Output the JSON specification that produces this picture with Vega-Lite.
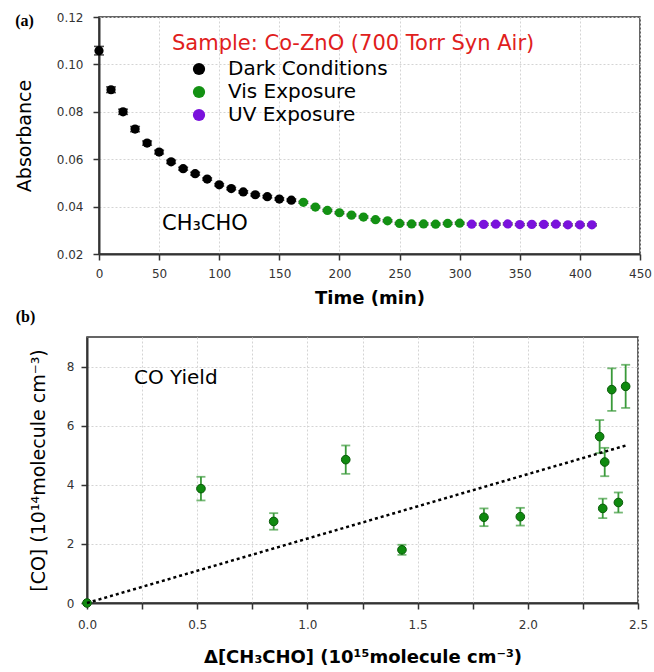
{
  "$schema": "https://vega.github.io/schema/vega-lite/v6.json",
  "background": "white",
  "padding": {"left": 13, "top": 10, "right": 2, "bottom": 2},
  "spacing": 0,
  "resolve": {"scale": {"color": "independent"}, "legend": {"color": "independent"}},
  "config": {
    "font": "DejaVu Sans",
    "view": {"stroke": "#333", "strokeWidth": 1.5, "fill": "white"},
    "axis": {
      "domainColor": "#333", "domainWidth": 2,
      "tickColor": "#333", "tickWidth": 1.5, "tickSize": 6,
      "labelFont": "DejaVu Sans", "labelFontSize": 12, "labelColor": "#333",
      "gridColor": "#d4d4d4", "gridDash": [2, 2], "gridWidth": 1,
      "titleFont": "DejaVu Sans", "titleColor": "#000"
    }
  },
  "vconcat": [
    {
      "spacing": 0,
      "resolve": {"scale": {"color": "independent"}, "legend": {"color": "independent"}},
      "hconcat": [
        {
          "width": 1, "height": 1,
          "view": {"stroke": null, "fill": null},
          "data": {"values": []},
          "mark": "point",
          "encoding": {}
        },
        {
          "width": 541,
          "height": 237,
          "layer": [
            {
              "data": {"name": "absorb"},
              "mark": {"type": "errorbar", "ticks": {"size": 10, "color": "#000"}, "color": "#000", "thickness": 1.5},
              "encoding": {
                "x": {"field": "t", "type": "quantitative", "scale": {"domain": [0, 450], "nice": false, "zero": false},
                  "axis": {
                    "title": "Time (min)", "titleFontSize": 18, "titleFontWeight": "bold", "titlePadding": 10,
                    "values": [0, 25, 50, 75, 100, 125, 150, 175, 200, 225, 250, 275, 300, 325, 350, 375, 400, 425, 450],
                    "labelExpr": "datum.value % 50 === 0 ? datum.label : ''",
                    "labelPadding": 8, "labelFlush": false
                  }},
                "y": {"field": "A", "type": "quantitative", "scale": {"domain": [0.02, 0.12], "nice": false, "zero": false},
                  "axis": {
                    "title": "Absorbance", "titleFontSize": 19, "titleFontWeight": "normal", "titlePadding": 22,
                    "values": [0.02, 0.03, 0.04, 0.05, 0.06, 0.07, 0.08, 0.09, 0.1, 0.11, 0.12],
                    "labelExpr": "round(datum.value * 100) % 2 === 0 ? format(datum.value, '.2f') : ''",
                    "labelPadding": 10, "labelFlush": false
                  }},
                "yError": {"field": "err"}
              }
            },
            {
              "data": {"name": "absorb"},
              "mark": {"type": "point", "filled": true, "size": 85, "opacity": 1},
              "encoding": {
                "x": {"field": "t", "type": "quantitative", "scale": {"domain": [0, 450], "nice": false, "zero": false}, "title": "Time (min)"},
                "y": {"field": "A", "type": "quantitative", "scale": {"domain": [0.02, 0.12], "nice": false, "zero": false}, "title": "Absorbance"},
                "color": {
                  "field": "cond", "type": "nominal",
                  "scale": {"domain": ["Dark Conditions", "Vis Exposure", "UV Exposure"], "range": ["#000000", "#139113", "#7a12dc"]},
                  "legend": {
                    "orient": "none", "legendX": 90, "legendY": 42, "padding": 0,
                    "title": null,
                    "labelFont": "DejaVu Sans", "labelFontSize": 20, "labelLimit": 300, "labelOffset": 19,
                    "symbolType": "circle", "symbolSize": 150, "symbolStrokeWidth": 0, "rowPadding": 3,
                    "encode": {
                      "labels": {"update": {"fill": {"signal": "datum.value === 'Vis Exposure' ? '#139113' : datum.value === 'UV Exposure' ? '#7a12dc' : '#000000'"}}}
                    }
                  }
                }
              }
            },
            {
              "data": {"values": [{"label": "Sample: Co-ZnO (700 Torr Syn Air)"}]},
              "mark": {"type": "text", "font": "DejaVu Sans", "fontSize": 21, "align": "left", "baseline": "alphabetic", "color": "#e0201c"},
              "encoding": {"text": {"field": "label"}, "x": {"datum": 60.7, "type": "quantitative"}, "y": {"datum": 0.1062, "type": "quantitative"}}
            },
            {
              "data": {"values": [{"label": "CH₃CHO"}]},
              "mark": {"type": "text", "font": "DejaVu Sans", "fontSize": 21, "align": "left", "baseline": "alphabetic", "color": "#000"},
              "encoding": {"text": {"field": "label"}, "x": {"datum": 52.4, "type": "quantitative"}, "y": {"datum": 0.0302, "type": "quantitative"}}
            },
            {
              "data": {"values": [{"label": "(a)"}]},
              "mark": {"type": "text", "font": "Liberation Serif", "fontWeight": "bold", "fontSize": 16, "align": "center", "baseline": "middle", "color": "#000"},
              "encoding": {"text": {"field": "label"}, "x": {"datum": -62, "type": "quantitative"}, "y": {"datum": 0.1183, "type": "quantitative"}}
            }
          ]
        }
      ]
    },
    {
      "spacing": 0,
      "hconcat": [
        {
          "width": 1, "height": 1,
          "view": {"stroke": null, "fill": null},
          "data": {"values": []},
          "mark": "point",
          "encoding": {}
        },
        {
          "width": 551,
          "height": 266,
          "layer": [
            {
              "data": {"name": "co"},
              "mark": {"type": "errorbar", "ticks": {"size": 9, "color": "#3a9a3a"}, "color": "#3a9a3a", "thickness": 1.8},
              "encoding": {
                "x": {"field": "d", "type": "quantitative", "scale": {"domain": [0, 2.5], "nice": false, "zero": false},
                  "axis": {
                    "title": "Δ[CH₃CHO] (10¹⁵molecule cm⁻³)", "titleFontSize": 18, "titleFontWeight": "bold", "titlePadding": 18,
                    "values": [0, 0.25, 0.5, 0.75, 1, 1.25, 1.5, 1.75, 2, 2.25, 2.5],
                    "labelExpr": "round(datum.value * 100) % 50 === 0 ? format(datum.value, '.1f') : ''",
                    "labelPadding": 10, "labelFlush": false
                  }},
                "y": {"field": "co", "type": "quantitative", "scale": {"domain": [0, 9], "nice": false, "zero": false},
                  "axis": {
                    "title": "[CO] (10¹⁴molecule cm⁻³)", "titleFontSize": 19, "titleFontWeight": "normal", "titlePadding": 18,
                    "values": [0, 1, 2, 3, 4, 5, 6, 7, 8, 9],
                    "labelExpr": "datum.value % 2 === 0 ? datum.label : ''",
                    "labelPadding": 7, "labelFlush": false
                  }},
                "yError": {"field": "err"}
              }
            },
            {
              "data": {"name": "co"},
              "mark": {"type": "point", "filled": true, "size": 75, "opacity": 1, "color": "#0f8a0f", "stroke": "#0a5a0a", "strokeWidth": 1},
              "encoding": {
                "x": {"field": "d", "type": "quantitative", "scale": {"domain": [0, 2.5], "nice": false, "zero": false}, "title": "Δ[CH₃CHO] (10¹⁵molecule cm⁻³)"},
                "y": {"field": "co", "type": "quantitative", "scale": {"domain": [0, 9], "nice": false, "zero": false}, "title": "[CO] (10¹⁴molecule cm⁻³)"}
              }
            },
            {
              "data": {"name": "fit"},
              "mark": {"type": "line", "color": "#000", "strokeWidth": 2.5, "strokeDash": [3, 3], "strokeCap": "butt"},
              "encoding": {
                "x": {"field": "d", "type": "quantitative", "scale": {"domain": [0, 2.5], "nice": false, "zero": false}, "title": "Δ[CH₃CHO] (10¹⁵molecule cm⁻³)"},
                "y": {"field": "co", "type": "quantitative", "scale": {"domain": [0, 9], "nice": false, "zero": false}, "title": "[CO] (10¹⁴molecule cm⁻³)"}
              }
            },
            {
              "data": {"values": [{"label": "CO Yield"}]},
              "mark": {"type": "text", "font": "DejaVu Sans", "fontSize": 20, "align": "left", "baseline": "alphabetic", "color": "#000"},
              "encoding": {"text": {"field": "label"}, "x": {"datum": 0.213, "type": "quantitative"}, "y": {"datum": 7.42, "type": "quantitative"}}
            },
            {
              "data": {"values": [{"label": "(b)"}]},
              "mark": {"type": "text", "font": "Liberation Serif", "fontWeight": "bold", "fontSize": 16, "align": "center", "baseline": "middle", "color": "#000"},
              "encoding": {"text": {"field": "label"}, "x": {"datum": -0.279, "type": "quantitative"}, "y": {"datum": 9.68, "type": "quantitative"}}
            }
          ]
        }
      ]
    }
  ],
  "datasets": {
    "absorb": [
      {"t": 0, "A": 0.1058, "err": 0.0018, "cond": "Dark Conditions"},
      {"t": 10, "A": 0.0893, "err": 0.0012, "cond": "Dark Conditions"},
      {"t": 20, "A": 0.0800, "err": 0.0011, "cond": "Dark Conditions"},
      {"t": 30, "A": 0.0727, "err": 0.0011, "cond": "Dark Conditions"},
      {"t": 40, "A": 0.0668, "err": 0.0009, "cond": "Dark Conditions"},
      {"t": 50, "A": 0.0630, "err": 0.0008, "cond": "Dark Conditions"},
      {"t": 60, "A": 0.0589, "err": 0.0007, "cond": "Dark Conditions"},
      {"t": 70, "A": 0.0560, "err": 0.0006, "cond": "Dark Conditions"},
      {"t": 80, "A": 0.0539, "err": 0.0006, "cond": "Dark Conditions"},
      {"t": 90, "A": 0.0516, "err": 0.0005, "cond": "Dark Conditions"},
      {"t": 100, "A": 0.0492, "err": 0.0005, "cond": "Dark Conditions"},
      {"t": 110, "A": 0.0476, "err": 0.0005, "cond": "Dark Conditions"},
      {"t": 120, "A": 0.0462, "err": 0.0005, "cond": "Dark Conditions"},
      {"t": 130, "A": 0.0450, "err": 0.0005, "cond": "Dark Conditions"},
      {"t": 140, "A": 0.0442, "err": 0.0005, "cond": "Dark Conditions"},
      {"t": 150, "A": 0.0432, "err": 0.0005, "cond": "Dark Conditions"},
      {"t": 160, "A": 0.0427, "err": 0.0005, "cond": "Dark Conditions"},
      {"t": 170, "A": 0.0418, "err": 0.0004, "cond": "Vis Exposure"},
      {"t": 180, "A": 0.0398, "err": 0.0004, "cond": "Vis Exposure"},
      {"t": 190, "A": 0.0384, "err": 0.0004, "cond": "Vis Exposure"},
      {"t": 200, "A": 0.0374, "err": 0.0004, "cond": "Vis Exposure"},
      {"t": 210, "A": 0.0364, "err": 0.0004, "cond": "Vis Exposure"},
      {"t": 220, "A": 0.0356, "err": 0.0004, "cond": "Vis Exposure"},
      {"t": 230, "A": 0.0345, "err": 0.0004, "cond": "Vis Exposure"},
      {"t": 240, "A": 0.0340, "err": 0.0004, "cond": "Vis Exposure"},
      {"t": 250, "A": 0.0329, "err": 0.0004, "cond": "Vis Exposure"},
      {"t": 260, "A": 0.0327, "err": 0.0004, "cond": "Vis Exposure"},
      {"t": 270, "A": 0.0327, "err": 0.0004, "cond": "Vis Exposure"},
      {"t": 280, "A": 0.0326, "err": 0.0004, "cond": "Vis Exposure"},
      {"t": 290, "A": 0.0329, "err": 0.0004, "cond": "Vis Exposure"},
      {"t": 300, "A": 0.0330, "err": 0.0004, "cond": "Vis Exposure"},
      {"t": 310, "A": 0.0326, "err": 0.0004, "cond": "UV Exposure"},
      {"t": 320, "A": 0.0325, "err": 0.0004, "cond": "UV Exposure"},
      {"t": 330, "A": 0.0326, "err": 0.0004, "cond": "UV Exposure"},
      {"t": 340, "A": 0.0327, "err": 0.0004, "cond": "UV Exposure"},
      {"t": 350, "A": 0.0324, "err": 0.0004, "cond": "UV Exposure"},
      {"t": 360, "A": 0.0325, "err": 0.0004, "cond": "UV Exposure"},
      {"t": 370, "A": 0.0325, "err": 0.0004, "cond": "UV Exposure"},
      {"t": 380, "A": 0.0326, "err": 0.0004, "cond": "UV Exposure"},
      {"t": 390, "A": 0.0323, "err": 0.0004, "cond": "UV Exposure"},
      {"t": 400, "A": 0.0323, "err": 0.0004, "cond": "UV Exposure"},
      {"t": 410, "A": 0.0323, "err": 0.0004, "cond": "UV Exposure"}
    ],
    "co": [
      {"d": 0, "co": 0, "err": 0},
      {"d": 0.517, "co": 3.87, "err": 0.40},
      {"d": 0.847, "co": 2.76, "err": 0.28},
      {"d": 1.174, "co": 4.85, "err": 0.48},
      {"d": 1.429, "co": 1.80, "err": 0.17},
      {"d": 1.801, "co": 2.90, "err": 0.30},
      {"d": 1.966, "co": 2.92, "err": 0.30},
      {"d": 2.326, "co": 5.63, "err": 0.56},
      {"d": 2.349, "co": 4.77, "err": 0.48},
      {"d": 2.340, "co": 3.20, "err": 0.33},
      {"d": 2.381, "co": 7.22, "err": 0.72},
      {"d": 2.411, "co": 3.40, "err": 0.34},
      {"d": 2.444, "co": 7.33, "err": 0.73}
    ],
    "fit": [
      {"d": 0, "co": 0},
      {"d": 2.445, "co": 5.33}
    ]
  }
}
